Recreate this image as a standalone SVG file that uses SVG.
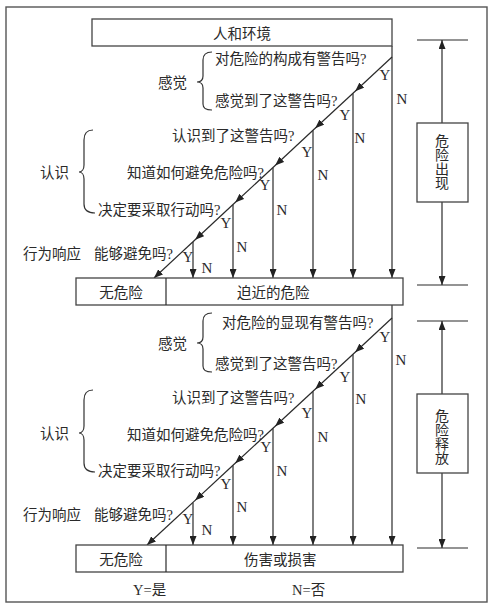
<svg xmlns="http://www.w3.org/2000/svg" width="500" height="614" viewBox="0 0 500 614">
<defs>
<style>
.t{font-family:"Liberation Serif","Noto Sans CJK SC",serif;font-size:14.5px;fill:#2a2a2a}
.v{font-family:"Noto Sans CJK SC",serif;font-size:14px;fill:#2a2a2a;writing-mode:vertical-rl;text-anchor:middle}
.yn{font-family:"Liberation Serif",serif;font-size:15px;fill:#2a2a2a;text-anchor:middle}
.m{text-anchor:middle}
.box{fill:#fff;stroke:#444;stroke-width:1.3}
.ln{stroke:#2a2a2a;stroke-width:1.2;fill:none}
.br{stroke:#333;stroke-width:1.2;fill:none}
</style>
<marker id="ah" markerWidth="9" markerHeight="7" refX="9" refY="3.5" orient="auto" markerUnits="userSpaceOnUse"><path d="M0,0 L9,3.5 L0,7 z" fill="#222"/></marker>
<marker id="ahd" markerWidth="12" markerHeight="7" refX="12" refY="3.5" orient="auto" markerUnits="userSpaceOnUse"><path d="M0,0 L9,3.5 L0,7 z" fill="#222"/></marker>
</defs>
<rect width="500" height="614" fill="#fff"/>
<rect x="6" y="7" width="481" height="595" fill="none" stroke="#555" stroke-width="1.4"/>

<g id="connectors">
<!-- upper diagonal -->
<line class="ln" x1="392" y1="57" x2="353" y2="93.2" marker-end="url(#ahd)"/>
<line class="ln" x1="353" y1="93.2" x2="313" y2="130.3" marker-end="url(#ahd)"/>
<line class="ln" x1="313" y1="130.3" x2="273" y2="167.5" marker-end="url(#ahd)"/>
<line class="ln" x1="273" y1="167.5" x2="233" y2="204.5" marker-end="url(#ahd)"/>
<line class="ln" x1="233" y1="204.5" x2="193" y2="241.7" marker-end="url(#ahd)"/>
<line class="ln" x1="193" y1="241.7" x2="154" y2="278" marker-end="url(#ah)"/>
<!-- upper verticals -->
<line class="ln" x1="392" y1="46" x2="392" y2="278" marker-end="url(#ah)"/>
<line class="ln" x1="353" y1="93.2" x2="353" y2="278" marker-end="url(#ah)"/>
<line class="ln" x1="313" y1="130.3" x2="313" y2="278" marker-end="url(#ah)"/>
<line class="ln" x1="273" y1="167.5" x2="273" y2="278" marker-end="url(#ah)"/>
<line class="ln" x1="233" y1="204.5" x2="233" y2="278" marker-end="url(#ah)"/>
<line class="ln" x1="193" y1="241.7" x2="193" y2="278" marker-end="url(#ah)"/>
<!-- lower diagonal -->
<line class="ln" x1="392" y1="318" x2="353" y2="354.2" marker-end="url(#ahd)"/>
<line class="ln" x1="353" y1="354.2" x2="313" y2="391.2" marker-end="url(#ahd)"/>
<line class="ln" x1="313" y1="391.2" x2="273" y2="428.3" marker-end="url(#ahd)"/>
<line class="ln" x1="273" y1="428.3" x2="233" y2="465.3" marker-end="url(#ahd)"/>
<line class="ln" x1="233" y1="465.3" x2="193" y2="502.4" marker-end="url(#ahd)"/>
<line class="ln" x1="193" y1="502.4" x2="147" y2="545" marker-end="url(#ah)"/>
<!-- lower verticals -->
<line class="ln" x1="392" y1="305" x2="392" y2="545" marker-end="url(#ah)"/>
<line class="ln" x1="353" y1="354.2" x2="353" y2="545" marker-end="url(#ah)"/>
<line class="ln" x1="313" y1="391.2" x2="313" y2="545" marker-end="url(#ah)"/>
<line class="ln" x1="273" y1="428.3" x2="273" y2="545" marker-end="url(#ah)"/>
<line class="ln" x1="233" y1="465.3" x2="233" y2="545" marker-end="url(#ah)"/>
<line class="ln" x1="193" y1="502.4" x2="193" y2="545" marker-end="url(#ah)"/>
<!-- right-side span arrows -->
<line class="ln" x1="417" y1="40" x2="468" y2="40"/>
<line class="ln" x1="442" y1="123" x2="442" y2="40" marker-end="url(#ah)"/>
<line class="ln" x1="442" y1="202" x2="442" y2="285" marker-end="url(#ah)"/>
<line class="ln" x1="417" y1="285" x2="468" y2="285"/>
<line class="ln" x1="417" y1="321" x2="468" y2="321"/>
<line class="ln" x1="442" y1="394" x2="442" y2="321" marker-end="url(#ah)"/>
<line class="ln" x1="442" y1="473" x2="442" y2="548" marker-end="url(#ah)"/>
<line class="ln" x1="417" y1="548" x2="468" y2="548"/>
<!-- Y / N labels -->
<g>
<text class="yn" x="385" y="80">Y</text>
<text class="yn" x="345" y="120">Y</text>
<text class="yn" x="307" y="157">Y</text>
<text class="yn" x="265" y="190">Y</text>
<text class="yn" x="226" y="228">Y</text>
<text class="yn" x="188" y="262">Y</text>
<text class="yn" x="402" y="104">N</text>
<text class="yn" x="360" y="143">N</text>
<text class="yn" x="323" y="180">N</text>
<text class="yn" x="282" y="215">N</text>
<text class="yn" x="242" y="252">N</text>
<text class="yn" x="207" y="273">N</text>
<text class="yn" x="385" y="342">Y</text>
<text class="yn" x="345" y="382">Y</text>
<text class="yn" x="307" y="418">Y</text>
<text class="yn" x="266" y="452">Y</text>
<text class="yn" x="226" y="489">Y</text>
<text class="yn" x="188" y="524">Y</text>
<text class="yn" x="401" y="365">N</text>
<text class="yn" x="361" y="404">N</text>
<text class="yn" x="323" y="442">N</text>
<text class="yn" x="282" y="476">N</text>
<text class="yn" x="242" y="512">N</text>
<text class="yn" x="207" y="535">N</text>
</g>
</g>

<g id="env">
<rect class="box" x="92" y="19" width="300" height="27"/>
<text class="t m" x="242" y="38.5">人和环境</text>
</g>

<g id="upper-questions">
<text class="t" x="215" y="63.5">对危险的构成有警告吗?</text>
<text class="t" x="215" y="105.5">感觉到了这警告吗?</text>
<text class="t" x="172" y="140.5">认识到了这警告吗?</text>
<text class="t" x="127" y="178">知道如何避免危险吗?</text>
<text class="t" x="98" y="214.5">决定要采取行动吗?</text>
<text class="t" x="94" y="258.5">能够避免吗?</text>
</g>
<g id="upper-groups">
<text class="t" x="158" y="87.5">感觉</text>
<path class="br" d="M212,52 C205,52 203,55 203,60 L203,76 C203,80 201,82 197,82 C201,82 203,84 203,88 L203,104 C203,108 205,110 212,110"/>
<text class="t" x="40" y="177.5">认识</text>
<path class="br" d="M93,130 C86,130 84,134 84,140 L84,165 C84,169 82,172 79,172 C82,172 84,175 84,179 L84,204 C84,210 87,213 95,213"/>
<text class="t" x="23" y="258.5">行为响应</text>
</g>
<g id="upper-outcome">
<rect class="box" x="76" y="278" width="327" height="27"/>
<line class="ln" x1="166" y1="278" x2="166" y2="305"/>
<text class="t m" x="121" y="297.5">无危险</text>
<text class="t" x="237" y="297.5">迫近的危险</text>
</g>
<g id="danger-appears">
<rect class="box" x="417" y="123" width="51" height="79"/>
<text class="v" x="442" y="162">危险出现</text>
</g>

<g id="lower-questions">
<text class="t" x="222" y="327.5">对危险的显现有警告吗?</text>
<text class="t" x="215" y="368.5">感觉到了这警告吗?</text>
<text class="t" x="172" y="402.5">认识到了这警告吗?</text>
<text class="t" x="127" y="440">知道如何避免危险吗?</text>
<text class="t" x="98" y="476">决定要采取行动吗?</text>
<text class="t" x="94" y="519.5">能够避免吗?</text>
</g>
<g id="lower-groups">
<text class="t" x="158" y="348.5">感觉</text>
<path class="br" d="M212,313 C205,313 203,316 203,321 L203,337 C203,341 201,343 197,343 C201,343 203,345 203,349 L203,366 C203,370 205,372 212,372"/>
<text class="t" x="40" y="438.5">认识</text>
<path class="br" d="M93,390 C86,390 84,394 84,400 L84,426 C84,430 82,433 79,433 C82,433 84,436 84,440 L84,463 C84,469 87,472 95,472"/>
<text class="t" x="23" y="519.5">行为响应</text>
</g>
<g id="lower-outcome">
<rect class="box" x="76" y="545" width="327" height="27"/>
<line class="ln" x1="166" y1="545" x2="166" y2="572"/>
<text class="t m" x="121" y="565">无危险</text>
<text class="t" x="244" y="565">伤害或损害</text>
</g>
<g id="danger-release">
<rect class="box" x="417" y="394" width="51" height="79"/>
<text class="v" x="442" y="436.5">危险释放</text>
</g>

<g id="legend">
<text class="t" x="133" y="594.5">Y=是</text>
<text class="t" x="292" y="594.5">N=否</text>
</g>
</svg>
